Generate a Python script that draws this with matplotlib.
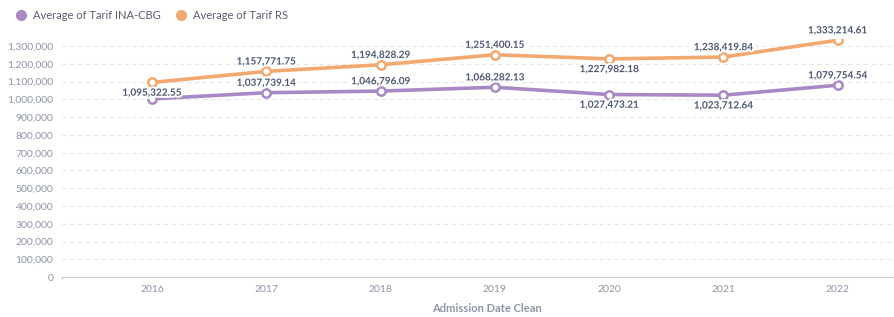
import matplotlib.pyplot as plt
import matplotlib.patheffects as pe
from matplotlib.ticker import FuncFormatter
from matplotlib.lines import Line2D

plt.rcParams['font.family'] = ['Lato', 'DejaVu Sans']

years = ['2016', '2017', '2018', '2019', '2020', '2021', '2022']
tarif_ina_cbg = [1003000, 1037739.14, 1046796.09, 1068282.13, 1027473.21, 1023712.64, 1079754.54]
tarif_rs = [1095322.55, 1157771.75, 1194828.29, 1251400.15, 1227982.18, 1238419.84, 1333214.61]

purple = '#a989c5'
orange = '#f2a86f'
label_color = '#4c5773'
axis_text = '#8f95a6'

fig = plt.figure(figsize=(8.95, 3.17), dpi=100)
ax = fig.add_axes([0.069, 0.126, 0.95, 0.751])

x = range(len(years))
ax.plot(x, tarif_rs, color=orange, lw=2.6, marker='o', ms=6,
        mfc='white', mec=orange, mew=1.8, zorder=3)
ax.plot(x, tarif_ina_cbg, color=purple, lw=2.6, marker='o', ms=6,
        mfc='white', mec=purple, mew=1.8, zorder=3)

outline = [pe.withStroke(linewidth=3, foreground='white')]

def put(i, v, above):
    txt = '{:,.2f}'.format(v)
    off = 3.5 if above else -4.5
    ax.annotate(txt, (i, v), xytext=(0, off), textcoords='offset points',
                ha='center', va='bottom' if above else 'top', fontsize=7.2,
                fontweight='bold', color=label_color, path_effects=outline, zorder=5)

rs_above = [False, True, True, True, False, True, True]
ina_above = [None, True, True, True, False, False, True]
for i in x:
    put(i, tarif_rs[i], rs_above[i])
    if ina_above[i] is not None:
        put(i, tarif_ina_cbg[i], ina_above[i])

ax.set_xlim(-0.79, 6.65)
ax.set_ylim(0, 1340000)
ax.set_yticks(range(0, 1300001, 100000))
ax.yaxis.set_major_formatter(FuncFormatter(lambda v, p: '{:,.0f}'.format(v)))
ax.set_xticks(list(x))
ax.set_xticklabels(years)

ax.grid(axis='y', color='#e4e6ea', lw=0.8, ls=(0, (4, 3)))
ax.set_axisbelow(True)
for s in ['top', 'right', 'left']:
    ax.spines[s].set_visible(False)
ax.spines['bottom'].set_color('#c9ccd3')
ax.plot([-0.79, -0.79], [0, -12000], color='#c9ccd3', lw=0.8, clip_on=False)
ax.tick_params(axis='y', length=0, labelsize=7.5, labelcolor=axis_text, pad=6)
ax.tick_params(axis='x', length=0, labelsize=7.5, labelcolor=axis_text, pad=6)
ax.set_xlabel('Admission Date Clean', fontsize=8, color=axis_text, fontweight='bold', labelpad=6)

handles = [Line2D([], [], ls='none', marker='o', ms=7, color=purple),
           Line2D([], [], ls='none', marker='o', ms=7, color=orange)]
fig.legend(handles, ['Average of Tarif INA-CBG', 'Average of Tarif RS'],
           loc='upper left', bbox_to_anchor=(0.0, 1.0), ncol=2, frameon=False,
           fontsize=8, handletextpad=0.1, columnspacing=0.8, labelcolor='#595f6e')

fig.savefig('out.png', dpi=100)
